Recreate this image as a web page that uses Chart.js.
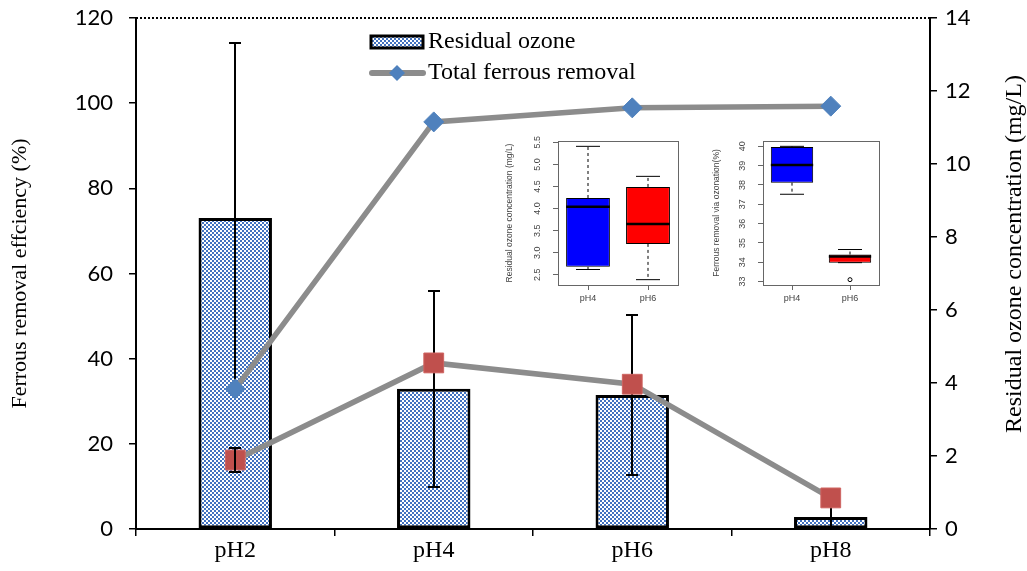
<!DOCTYPE html>
<html lang="en">
<head>
<meta charset="UTF-8">
<script src="https://cdn.jsdelivr.net/npm/chart.js"></script>
<title>Ferrous removal and residual ozone</title>
<style>
  body { margin: 0; background: #fff; }
  #wrap { position: relative; width: 1027px; height: 571px; }
  canvas { position: absolute; }
</style>
</head>
<body>
<div id="wrap">
  <canvas id="mainChart" width="1027" height="571" style="left:0;top:0;"></canvas>
  <canvas id="inset1" width="195" height="182" style="left:497px;top:128px;"></canvas>
  <canvas id="inset2" width="190" height="182" style="left:700px;top:128px;"></canvas>
</div>
<script>
// main chart data
const phLabels = ['pH2', 'pH4', 'pH6', 'pH8'];
const residualOzone = [8.52, 3.84, 3.67, 0.33];          // mg/L, right axis
const residualOzoneErr = [4.79, 2.68, 2.19, 0.4];
const totalFerrousRemoval = [32.9, 95.6, 98.9, 99.3];    // %, left axis
const ozonationRemoval = [16.2, 39.0, 34.0, 7.3];        // %, left axis
const ozonationRemovalErr = [2.9, 0, 0, 0];
const efficiencyTicks = [0, 20, 40, 60, 80, 100, 120];
const ozoneTicks = [0, 2, 4, 6, 8, 10, 12, 14];

// inset box plots
const boxLabels = ['pH4', 'pH6'];
const ozoneMin = [2.62, 2.39];
const ozoneQ1 = [2.68, 3.20];
const ozoneMed = [4.04, 3.65];
const ozoneQ3 = [4.24, 4.49];
const ozoneMax = [5.41, 4.73];
const ozoneOut = [[], []];
const ozoneBoxTicks = [2.5, 3.0, 3.5, 4.0, 4.5, 5.0, 5.5];
const viaMin = [37.52, 33.98];
const viaQ1 = [38.12, 33.98];
const viaMed = [39.03, 34.30];
const viaQ3 = [39.97, 34.40];
const viaMax = [40.0, 34.66];
const viaOut = [[], [33.1]];
const viaBoxTicks = [33, 34, 35, 36, 37, 38, 39, 40];

const mainCanvas = document.getElementById('mainChart');
const serif = 'Liberation Serif';

// blue checker fill like the excel pattern
function checker() {
    const c = document.createElement('canvas');
    c.width = 4; c.height = 4;
    const g = c.getContext('2d');
    g.fillStyle = '#fff';
    g.fillRect(0, 0, 4, 4);
    g.fillStyle = '#4272c0';
    g.fillRect(0, 0, 2, 2);
    g.fillRect(2, 2, 2, 2);
    return mainCanvas.getContext('2d').createPattern(c, 'repeat');
}
const barFill = checker();

function drawErrors(chart, di) {
    const ds = chart.data.datasets[di];
    if (!ds.errors) return;
    const ctx = chart.ctx;
    const a = chart.chartArea;
    const meta = chart.getDatasetMeta(di);
    const scale = chart.scales[meta.yAxisID];
    ctx.save();
    ctx.beginPath();
    ctx.rect(a.left, a.top - 3, a.right - a.left, a.bottom - a.top + 3);
    ctx.clip();
    ctx.strokeStyle = '#000';
    ctx.lineWidth = 2;
    meta.data.forEach((el, i) => {
        const e = ds.errors[i];
        if (!e) return;
        const x = Math.round(el.x);
        const top = Math.round(scale.getPixelForValue(ds.data[i] + e));
        const bot = Math.round(scale.getPixelForValue(ds.data[i] - e));
        ctx.beginPath();
        ctx.moveTo(x, top); ctx.lineTo(x, bot);
        ctx.moveTo(x - 6, top); ctx.lineTo(x + 6, top);
        ctx.moveTo(x - 6, bot); ctx.lineTo(x + 6, bot);
        ctx.stroke();
    });
    ctx.restore();
}

const extras = {
    id: 'extras',
    afterDatasetDraw(chart, args) {
        // each series gets its error bars right after it is drawn
        drawErrors(chart, args.index);
    },
    afterDraw(chart) {
        const ctx = chart.ctx;
        const a = chart.chartArea;
        ctx.save();
        // dotted top border
        ctx.strokeStyle = '#000';
        ctx.lineWidth = 2;
        ctx.setLineDash([2, 2]);
        ctx.beginPath();
        ctx.moveTo(a.left, a.top);
        ctx.lineTo(a.right, a.top);
        ctx.stroke();
        ctx.setLineDash([]);

        // right axis title, reads bottom to top
        ctx.fillStyle = '#000';
        ctx.font = '24px "' + serif + '"';
        ctx.textAlign = 'center';
        ctx.textBaseline = 'middle';
        ctx.translate(1015, 254);
        ctx.rotate(-Math.PI / 2);
        ctx.fillText('Residual ozone concentration (mg/L)', 0, 0);
        ctx.restore();

        // legend
        const bar = chart.data.datasets[2];
        const line = chart.data.datasets[0];
        ctx.save();
        ctx.fillStyle = bar.backgroundColor;
        ctx.fillRect(371, 36, 52, 12);
        ctx.strokeStyle = '#000';
        ctx.lineWidth = 3;
        ctx.strokeRect(371, 36, 52, 12);
        ctx.strokeStyle = line.borderColor;
        ctx.lineWidth = 6;
        ctx.lineCap = 'round';
        ctx.beginPath();
        ctx.moveTo(372, 73); ctx.lineTo(423, 73);
        ctx.stroke();
        ctx.fillStyle = line.pointBackgroundColor;
        ctx.beginPath();
        ctx.moveTo(397, 65); ctx.lineTo(405, 73); ctx.lineTo(397, 81); ctx.lineTo(389, 73);
        ctx.closePath();
        ctx.fill();
        ctx.fillStyle = '#000';
        ctx.font = '24px "' + serif + '"';
        ctx.textBaseline = 'middle';
        ctx.fillText(bar.label, 428, 42);
        ctx.fillText(line.label, 428, 73);
        ctx.restore();
    }
};

// keep the plot area where the reference has it
function fixY(width) {
    return s => {
        s.width = width;
        s.paddingTop = 0;
        s.paddingBottom = 0;
    };
}

new Chart(mainCanvas, {
    type: 'bar',
    data: {
        labels: phLabels,
        datasets: [{
            type: 'line',
            label: 'Total ferrous removal',
            data: totalFerrousRemoval,
            yAxisID: 'y',
            borderColor: '#8c8c8c',
            borderWidth: 5.5,
            pointStyle: 'rectRot',
            pointRadius: 10,
            pointBackgroundColor: '#4f81bd',
            pointBorderColor: '#4f81bd',
            pointBorderWidth: 1,
            order: 1
        }, {
            type: 'line',
            label: 'Ferrous removal via ozonation',
            data: ozonationRemoval,
            errors: ozonationRemovalErr,
            yAxisID: 'y',
            borderColor: '#8c8c8c',
            borderWidth: 5.5,
            pointStyle: 'rect',
            pointRadius: 14,
            pointBackgroundColor: '#c0504d',
            pointBorderColor: '#cf6461',
            pointBorderWidth: 1,
            order: 2
        }, {
            type: 'bar',
            label: 'Residual ozone',
            data: residualOzone,
            errors: residualOzoneErr,
            yAxisID: 'y1',
            backgroundColor: barFill,
            borderColor: '#000',
            borderWidth: 3,
            borderSkipped: false,
            barPercentage: 0.37,
            categoryPercentage: 1,
            order: 3
        }]
    },
    options: {
        responsive: false,
        animation: false,
        layout: { padding: { top: 18, right: 0, bottom: 0, left: 0 } },
        plugins: {
            legend: { display: false },
            tooltip: { enabled: false }
        },
        scales: {
            x: {
                grid: { offset: true, drawOnChartArea: false, tickLength: 7, color: '#000', lineWidth: 1.5 },
                border: { color: '#000', width: 2 },
                ticks: { font: { family: serif, size: 24 }, color: '#000', padding: 0 },
                afterFit: s => { s.height = 42; }
            },
            y: {
                position: 'left',
                min: 0,
                max: 120,
                afterBuildTicks: s => { s.ticks = efficiencyTicks.map(v => ({ value: v })); },
                grid: { drawOnChartArea: false, tickLength: 7, color: '#000', lineWidth: 1.5 },
                border: { color: '#000', width: 2 },
                ticks: { font: { family: 'Lato', size: 22 }, color: '#000', padding: 16 },
                title: {
                    display: true,
                    text: 'Ferrous removal effciency (%)',
                    font: { family: serif, size: 22 },
                    color: '#000',
                    padding: { top: 7, bottom: 0 }
                },
                afterFit: fixY(136)
            },
            y1: {
                position: 'right',
                min: 0,
                max: 14,
                afterBuildTicks: s => { s.ticks = ozoneTicks.map(v => ({ value: v })); },
                grid: { drawOnChartArea: false, tickLength: 7, color: '#000', lineWidth: 1.5 },
                border: { color: '#000', width: 2 },
                ticks: { font: { family: 'Lato', size: 22 }, color: '#000', padding: 8 },
                afterFit: fixY(97)
            }
        }
    },
    plugins: [extras]
});

// R style box plot drawing on top of floating bars
const boxExtras = {
    id: 'boxExtras',
    afterDatasetsDraw(chart, args, o) {
        const ctx = chart.ctx;
        const a = chart.chartArea;
        const y = chart.scales.y;
        const meta = chart.getDatasetMeta(0);
        ctx.save();
        ctx.strokeStyle = '#000';
        meta.data.forEach((bar, i) => {
            const cx = bar.x;
            const hw = bar.width / 2;
            const q1 = y.getPixelForValue(o.q1[i]);
            const q3 = y.getPixelForValue(o.q3[i]);
            const lo = y.getPixelForValue(o.lo[i]);
            const hi = y.getPixelForValue(o.hi[i]);
            ctx.lineWidth = 1;
            ctx.setLineDash([3, 3]);
            ctx.beginPath();
            ctx.moveTo(cx, q3); ctx.lineTo(cx, hi);
            ctx.moveTo(cx, q1); ctx.lineTo(cx, lo);
            ctx.stroke();
            ctx.setLineDash([]);
            ctx.beginPath();
            ctx.moveTo(cx - 12, hi); ctx.lineTo(cx + 12, hi);
            ctx.moveTo(cx - 12, lo); ctx.lineTo(cx + 12, lo);
            ctx.stroke();
            ctx.lineWidth = 2.5;
            const m = y.getPixelForValue(o.med[i]);
            ctx.beginPath();
            ctx.moveTo(cx - hw, m); ctx.lineTo(cx + hw, m);
            ctx.stroke();
            ctx.lineWidth = 1;
            o.out[i].forEach(v => {
                ctx.beginPath();
                ctx.arc(cx, y.getPixelForValue(v), 2, 0, Math.PI * 2);
                ctx.stroke();
            });
        });
        // frame
        ctx.strokeStyle = '#666';
        ctx.strokeRect(Math.round(a.left) + 0.5, Math.round(a.top) + 0.5, Math.round(a.right - a.left), Math.round(a.bottom - a.top));
        // y tick labels parallel to the axis
        ctx.fillStyle = '#444';
        ctx.font = '9px "Liberation Sans"';
        ctx.textAlign = 'center';
        ctx.textBaseline = 'middle';
        y.ticks.forEach(t => {
            ctx.save();
            ctx.translate(o.labelX, y.getPixelForValue(t.value));
            ctx.rotate(-Math.PI / 2);
            ctx.fillText(t.value.toFixed(o.decimals), 0, 0);
            ctx.restore();
        });
        ctx.restore();
    }
};

function boxChart(id, opts) {
    const allLo = Math.min(...opts.lo, ...opts.out.flat());
    const allHi = Math.max(...opts.hi, ...opts.out.flat());
    const pad = (allHi - allLo) * 0.04;
    return new Chart(document.getElementById(id), {
        type: 'bar',
        data: {
            labels: boxLabels,
            datasets: [{
                data: opts.q1.map((v, i) => [v, opts.q3[i]]),
                backgroundColor: ['#0000ff', '#ff0000'],
                borderColor: '#000',
                borderWidth: 1,
                borderSkipped: false,
                barPercentage: 0.73,
                categoryPercentage: 1
            }]
        },
        options: {
            responsive: false,
            animation: false,
            layout: { padding: { top: 13, right: opts.right, bottom: 0, left: 0 } },
            plugins: {
                legend: { display: false },
                tooltip: { enabled: false },
                boxExtras: opts
            },
            scales: {
                x: {
                    grid: { offset: false, drawOnChartArea: false, tickLength: 5, color: '#666' },
                    border: { display: false },
                    ticks: { font: { family: 'Liberation Sans', size: 9 }, color: '#444', padding: 3 },
                    afterFit: s => { s.height = 25; }
                },
                y: {
                    min: allLo - pad,
                    max: allHi + pad,
                    afterBuildTicks: s => { s.ticks = opts.ticks.map(v => ({ value: v })); },
                    grid: { drawOnChartArea: false, tickLength: 5, color: '#666' },
                    border: { display: false },
                    ticks: { display: false },
                    title: {
                        display: true,
                        text: opts.title,
                        font: { family: 'Liberation Sans', size: 8.5 },
                        color: '#444',
                        padding: { top: opts.titlePad, bottom: 0 }
                    },
                    afterFit: s => { s.width = opts.axisWidth; }
                }
            }
        },
        plugins: [boxExtras]
    });
}

boxChart('inset1', {
    lo: ozoneMin, q1: ozoneQ1, med: ozoneMed, q3: ozoneQ3, hi: ozoneMax, out: ozoneOut,
    ticks: ozoneBoxTicks, decimals: 1, title: 'Residual ozone concentration (mg/L)',
    axisWidth: 61, right: 14, titlePad: 8, labelX: 41
});
boxChart('inset2', {
    lo: viaMin, q1: viaQ1, med: viaMed, q3: viaQ3, hi: viaMax, out: viaOut,
    ticks: viaBoxTicks, decimals: 0, title: 'Ferrous removal via ozonation(%)',
    axisWidth: 63, right: 11, titlePad: 12, labelX: 43
});
</script>
</body>
</html>
